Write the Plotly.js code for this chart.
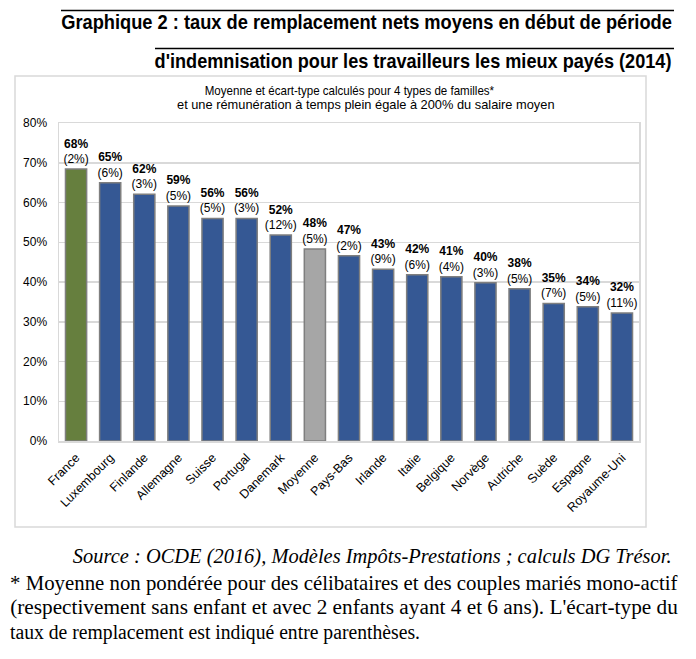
<!DOCTYPE html>
<html>
<head>
<meta charset="utf-8">
<script src="https://cdn.plot.ly/plotly-3.0.1.min.js"></script>
<style>html,body{margin:0;padding:0;background:#fff;}#chart{width:696px;height:659px;}</style>
</head>
<body>
<div id="chart"></div>
<script>
const countries = ["France","Luxembourg","Finlande","Allemagne","Suisse","Portugal","Danemark","Moyenne","Pays-Bas","Irlande","Italie","Belgique","Norvège","Autriche","Suède","Espagne","Royaume-Uni"];
const rates = [68.4, 65.0, 62.1, 59.1, 56.0, 56.0, 51.8, 48.3, 46.6, 43.2, 41.8, 41.3, 39.8, 38.3, 34.6, 33.8, 32.2];
const stdDevs = [2, 6, 3, 5, 5, 3, 12, 5, 2, 9, 6, 4, 3, 5, 7, 5, 11];
const yTickValues = [0, 10, 20, 30, 40, 50, 60, 70, 80];
const yTickLabels = yTickValues.map(v => v + "%");

const titleLine1 = "Graphique 2 : taux de remplacement nets moyens en début de période";
const titleLine2 = "d'indemnisation pour les travailleurs les mieux payés (2014)";
const subtitle1 = "Moyenne et écart-type calculés pour 4 types de familles*";
const subtitle2 = "et une rémunération à temps plein égale à 200% du salaire moyen";
const sourceText = "Source : OCDE (2016), Modèles Impôts-Prestations ; calculs DG Trésor.";
const noteLines = [
  "* Moyenne non pondérée pour des célibataires et des couples mariés mono-actif",
  "(respectivement sans enfant et avec 2 enfants ayant 4 et 6 ans). L'écart-type du",
  "taux de remplacement est indiqué entre parenthèses."
];

const W = 696, H = 659;
const L = 59, R = 639, T = 123, B = 441;
const px = x => (x - L) / (R - L);
const py = y => (B - y) / (B - T);

const colors = countries.map(c => c === "France" ? "#667F3E" : (c === "Moyenne" ? "#A6A6A6" : "#355894"));

const arial = "'Liberation Sans', Arial, sans-serif";
const serif = "'Liberation Serif', 'Times New Roman', serif";

const trace = {
  type: "bar",
  x: countries,
  y: rates,
  customdata: stdDevs,
  texttemplate: "<b>%{y:.0f}%</b><br>(%{customdata}%)",
  textposition: "outside",
  constraintext: "none",
  cliponaxis: false,
  textfont: {family: arial, size: 12, color: "#000"},
  marker: {color: colors, line: {color: "#7F7F7F", width: 1.5}},
  hoverinfo: "skip"
};

// [annotation, target width in px (null = natural), transform origin]
const annSpecs = [
  [{text: "<b>" + titleLine1 + "</b>", x: px(674), y: py(22), xanchor: "right", font: {family: arial, size: 20, color: "#000"}}, 611, "right"],
  [{text: "<b>" + titleLine2 + "</b>", x: px(674), y: py(61), xanchor: "right", font: {family: arial, size: 20, color: "#000"}}, 517, "right"],
  [{text: subtitle1, x: px(349), y: py(91), xanchor: "center", font: {family: arial, size: 12, color: "#000"}}, 290, "center"],
  [{text: subtitle2, x: px(366), y: py(105), xanchor: "center", font: {family: arial, size: 12, color: "#000"}}, 378, "center"],
  [{text: "<i>" + sourceText + "</i>", x: px(674), y: py(556), xanchor: "right", font: {family: serif, size: 20, color: "#000"}}, 599, "right"],
  [{text: noteLines[0], x: px(8), y: py(583), xanchor: "left", font: {family: serif, size: 20, color: "#000"}}, 668, "left"],
  [{text: noteLines[1], x: px(8), y: py(607.5), xanchor: "left", font: {family: serif, size: 20, color: "#000"}}, 668, "left"],
  [{text: noteLines[2], x: px(8), y: py(632), xanchor: "left", font: {family: serif, size: 20, color: "#000"}}, 410, "left"]
];
const annotations = annSpecs.map(s => Object.assign({xref: "paper", yref: "paper", yanchor: "middle", showarrow: false}, s[0]));

const shapes = [
  {type: "rect", xref: "paper", yref: "paper", x0: px(15), x1: px(646), y0: py(527), y1: py(76), line: {color: "#D9D9D9", width: 1.5}},
  {type: "line", xref: "paper", yref: "paper", x0: px(61), x1: px(674), y0: py(10.5), y1: py(10.5), line: {color: "#000", width: 1.5}},
  {type: "line", xref: "paper", yref: "paper", x0: px(155), x1: px(674), y0: py(48.5), y1: py(48.5), line: {color: "#000", width: 1.5}}
];

const layout = {
  width: W, height: H,
  margin: {l: L, r: W - R, t: T, b: H - B, pad: 0},
  paper_bgcolor: "#fff", plot_bgcolor: "#fff",
  showlegend: false,
  bargap: 0.38,
  font: {family: arial, color: "#000"},
  xaxis: {
    type: "category",
    tickangle: -45,
    tickfont: {family: arial, size: 12.5, color: "#000"},
    showline: true, linecolor: "#D9D9D9", linewidth: 1.5, mirror: true,
    showgrid: false, ticks: "", zeroline: false, ticklabelstandoff: 3
  },
  yaxis: {
    range: [0, 80],
    tickmode: "array",
    tickvals: yTickValues,
    ticktext: yTickLabels,
    tickfont: {family: arial, size: 12, color: "#000"},
    showgrid: true, gridcolor: "#D9D9D9", gridwidth: 1.5,
    showline: true, linecolor: "#D9D9D9", linewidth: 1.5, mirror: true,
    ticks: "", zeroline: false, ticklabelstandoff: 8
  },
  annotations: annotations,
  shapes: shapes
};

Plotly.newPlot("chart", [trace], layout, {displayModeBar: false, staticPlot: true}).then(gd => {
  annSpecs.forEach((s, i) => {
    const target = s[1];
    if (!target) return;
    const t = gd.querySelector('g.annotation[data-index="' + i + '"] text.annotation-text');
    if (!t) return;
    const w = t.getBBox().width;
    if (!w) return;
    const k = target / w;
    t.style.transformBox = "fill-box";
    t.style.transformOrigin = s[2] + " center";
    t.style.transform = "scaleX(" + k.toFixed(4) + ")";
  });
});
</script>
</body>
</html>
